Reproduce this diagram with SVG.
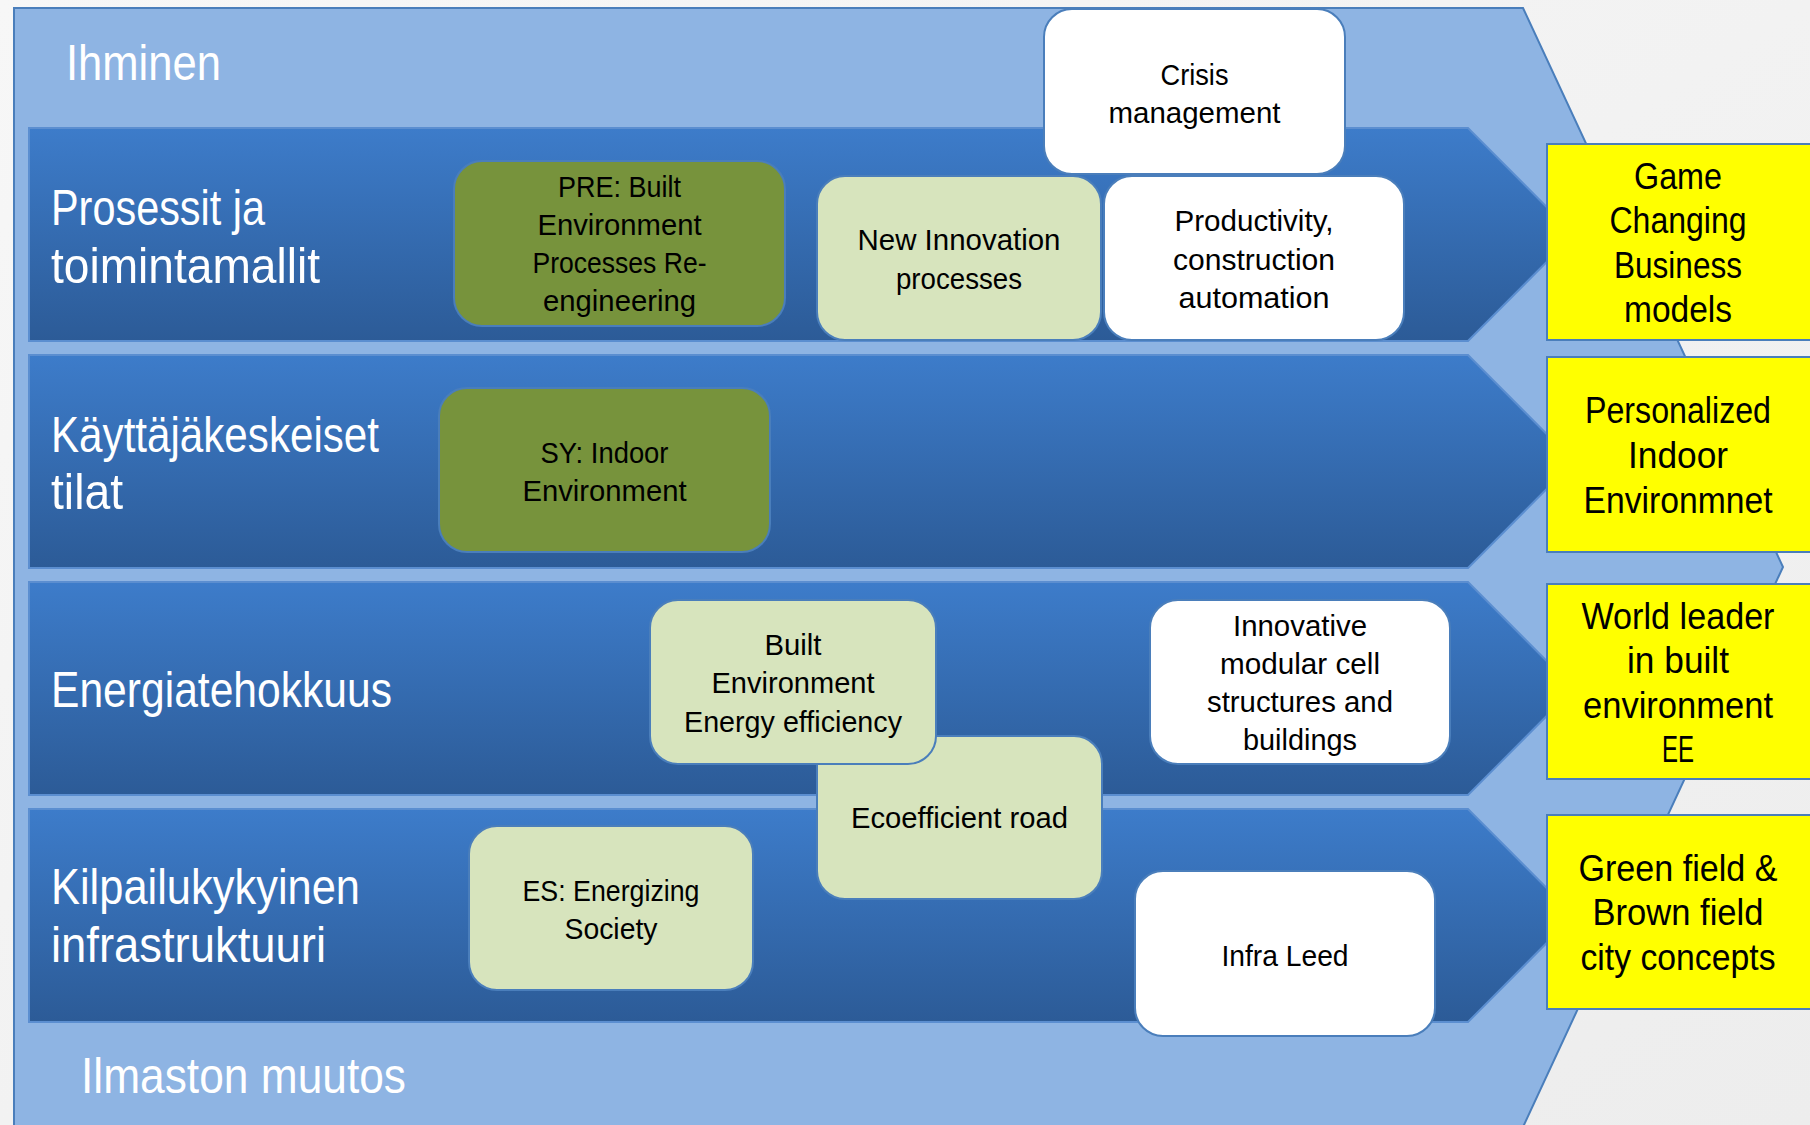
<svg xmlns="http://www.w3.org/2000/svg" width="1810" height="1125" viewBox="0 0 1810 1125">
<style>
.lbl{font-family:"Liberation Sans Narrow","Liberation Sans",Arial,sans-serif;font-size:50px;fill:#ffffff}
.nt{font-family:"Liberation Sans Narrow","Liberation Sans",Arial,sans-serif;font-size:30px;fill:#000000;text-anchor:middle}
.yt{font-family:"Liberation Sans Narrow","Liberation Sans",Arial,sans-serif;font-size:36px;fill:#000000;text-anchor:middle}
.box{stroke:#4A7EBB;stroke-width:2}
.white{fill:#ffffff}
.olive{fill:#77933C}
.lgreen{fill:#D7E4BD}
.yellow{fill:#FFFF00;stroke:#4A7EBB;stroke-width:2}
.band{fill:url(#bandGrad);stroke:#5B8ED0;stroke-width:2}
</style>
<defs>
<linearGradient id="bandGrad" x1="0" y1="0" x2="0" y2="1">
<stop offset="0" stop-color="#3D7CCA"/>
<stop offset="1" stop-color="#2C5B97"/>
</linearGradient>
<linearGradient id="bgGrad" x1="0" y1="0" x2="1" y2="1">
<stop offset="0" stop-color="#F7F7F7"/>
<stop offset="1" stop-color="#EDEDED"/>
</linearGradient>
</defs>
<rect x="0" y="0" width="1810" height="1125" fill="url(#bgGrad)"/>
<g id="background">
<path d="M14,8 L1523,8 L1783,567 L1523,1127 L14,1127 Z" fill="#8EB4E3" stroke="#4A7EBB" stroke-width="2"/>
</g>
<g id="bands">
<path class="band" d="M29,128 L1468,128 L1574,234.5 L1468,341 L29,341 Z"/>
<path class="band" d="M29,355 L1468,355 L1574,461.5 L1468,568 L29,568 Z"/>
<path class="band" d="M29,582 L1468,582 L1574,688.5 L1468,795 L29,795 Z"/>
<path class="band" d="M29,809 L1468,809 L1574,915.5 L1468,1022 L29,1022 Z"/>
</g>
<g id="labels">
<text class="lbl" x="66" y="80" textLength="155" lengthAdjust="spacingAndGlyphs">Ihminen</text>
<text class="lbl" x="51" y="225" textLength="214" lengthAdjust="spacingAndGlyphs">Prosessit ja</text>
<text class="lbl" x="51" y="283" textLength="269" lengthAdjust="spacingAndGlyphs">toimintamallit</text>
<text class="lbl" x="51" y="452" textLength="328" lengthAdjust="spacingAndGlyphs">Käyttäjäkeskeiset</text>
<text class="lbl" x="51" y="509" textLength="72" lengthAdjust="spacingAndGlyphs">tilat</text>
<text class="lbl" x="51" y="707" textLength="341" lengthAdjust="spacingAndGlyphs">Energiatehokkuus</text>
<text class="lbl" x="51" y="904" textLength="309" lengthAdjust="spacingAndGlyphs">Kilpailukykyinen</text>
<text class="lbl" x="51" y="962" textLength="275" lengthAdjust="spacingAndGlyphs">infrastruktuuri</text>
<text class="lbl" x="81" y="1093" textLength="325" lengthAdjust="spacingAndGlyphs">Ilmaston muutos</text>
</g>
<g id="connectors"></g>
<g id="crisis">
<rect class="box white" x="1044" y="9" width="301" height="165" rx="28"/>
<text class="nt" x="1194.5" y="85" textLength="68" lengthAdjust="spacingAndGlyphs">Crisis</text>
<text class="nt" x="1194.5" y="123" textLength="172" lengthAdjust="spacingAndGlyphs">management</text>
</g>
<g id="pre">
<rect class="box olive" x="454" y="161" width="331" height="165" rx="28"/>
<text class="nt" x="619.5" y="197" textLength="123" lengthAdjust="spacingAndGlyphs">PRE: Built</text>
<text class="nt" x="619.5" y="235" textLength="164" lengthAdjust="spacingAndGlyphs">Environment</text>
<text class="nt" x="619.5" y="273" textLength="174" lengthAdjust="spacingAndGlyphs">Processes Re-</text>
<text class="nt" x="619.5" y="311" textLength="153" lengthAdjust="spacingAndGlyphs">engineering</text>
</g>
<g id="newinnovation">
<rect class="box lgreen" x="817" y="176" width="284" height="164" rx="28"/>
<text class="nt" x="959" y="250" textLength="203" lengthAdjust="spacingAndGlyphs">New Innovation</text>
<text class="nt" x="959" y="289" textLength="126" lengthAdjust="spacingAndGlyphs">processes</text>
</g>
<g id="productivity">
<rect class="box white" x="1104" y="176" width="300" height="164" rx="28"/>
<text class="nt" x="1254" y="231" textLength="159" lengthAdjust="spacingAndGlyphs">Productivity,</text>
<text class="nt" x="1254" y="270" textLength="162" lengthAdjust="spacingAndGlyphs">construction</text>
<text class="nt" x="1254" y="308" textLength="151" lengthAdjust="spacingAndGlyphs">automation</text>
</g>
<g id="sy">
<rect class="box olive" x="439" y="388" width="331" height="164" rx="28"/>
<text class="nt" x="604.5" y="463" textLength="128" lengthAdjust="spacingAndGlyphs">SY: Indoor</text>
<text class="nt" x="604.5" y="501" textLength="164" lengthAdjust="spacingAndGlyphs">Environment</text>
</g>
<g id="ecoroad">
<rect class="box lgreen" x="817" y="736" width="285" height="163" rx="28"/>
<text class="nt" x="959.5" y="828" textLength="217" lengthAdjust="spacingAndGlyphs">Ecoefficient road</text>
</g>
<g id="builtee">
<rect class="box lgreen" x="650" y="600" width="286" height="164" rx="28"/>
<text class="nt" x="793" y="655" textLength="57" lengthAdjust="spacingAndGlyphs">Built</text>
<text class="nt" x="793" y="693" textLength="163" lengthAdjust="spacingAndGlyphs">Environment</text>
<text class="nt" x="793" y="732" textLength="218" lengthAdjust="spacingAndGlyphs">Energy efficiency</text>
</g>
<g id="innovative">
<rect class="box white" x="1150" y="600" width="300" height="164" rx="28"/>
<text class="nt" x="1300" y="636" textLength="134" lengthAdjust="spacingAndGlyphs">Innovative</text>
<text class="nt" x="1300" y="674" textLength="160" lengthAdjust="spacingAndGlyphs">modular cell</text>
<text class="nt" x="1300" y="712" textLength="186" lengthAdjust="spacingAndGlyphs">structures and</text>
<text class="nt" x="1300" y="750" textLength="114" lengthAdjust="spacingAndGlyphs">buildings</text>
</g>
<g id="es">
<rect class="box lgreen" x="469" y="826" width="284" height="164" rx="28"/>
<text class="nt" x="611" y="901" textLength="177" lengthAdjust="spacingAndGlyphs">ES: Energizing</text>
<text class="nt" x="611" y="939" textLength="93" lengthAdjust="spacingAndGlyphs">Society</text>
</g>
<g id="infraleed">
<rect class="box white" x="1135" y="871" width="300" height="165" rx="28"/>
<text class="nt" x="1285" y="966" textLength="127" lengthAdjust="spacingAndGlyphs">Infra Leed</text>
</g>
<g id="gamechanging">
<rect class="yellow" x="1547" y="144" width="270" height="196"/>
<text class="yt" x="1678" y="189" textLength="88" lengthAdjust="spacingAndGlyphs">Game</text>
<text class="yt" x="1678" y="233" textLength="137" lengthAdjust="spacingAndGlyphs">Changing</text>
<text class="yt" x="1678" y="278" textLength="128" lengthAdjust="spacingAndGlyphs">Business</text>
<text class="yt" x="1678" y="322" textLength="108" lengthAdjust="spacingAndGlyphs">models</text>
</g>
<g id="personalized">
<rect class="yellow" x="1547" y="357" width="270" height="195"/>
<text class="yt" x="1678" y="423" textLength="186" lengthAdjust="spacingAndGlyphs">Personalized</text>
<text class="yt" x="1678" y="468" textLength="100" lengthAdjust="spacingAndGlyphs">Indoor</text>
<text class="yt" x="1678" y="513" textLength="189" lengthAdjust="spacingAndGlyphs">Environmnet</text>
</g>
<g id="worldleader">
<rect class="yellow" x="1547" y="584" width="270" height="195"/>
<text class="yt" x="1678" y="629" textLength="193" lengthAdjust="spacingAndGlyphs">World leader</text>
<text class="yt" x="1678" y="673" textLength="102" lengthAdjust="spacingAndGlyphs">in built</text>
<text class="yt" x="1678" y="718" textLength="190" lengthAdjust="spacingAndGlyphs">environment</text>
<text class="yt" x="1678" y="762" textLength="32" lengthAdjust="spacingAndGlyphs">EE</text>
</g>
<g id="greenfield">
<rect class="yellow" x="1547" y="815" width="270" height="194"/>
<text class="yt" x="1678" y="881" textLength="199" lengthAdjust="spacingAndGlyphs">Green field &amp;</text>
<text class="yt" x="1678" y="925" textLength="171" lengthAdjust="spacingAndGlyphs">Brown field</text>
<text class="yt" x="1678" y="970" textLength="195" lengthAdjust="spacingAndGlyphs">city concepts</text>
</g>
</svg>
